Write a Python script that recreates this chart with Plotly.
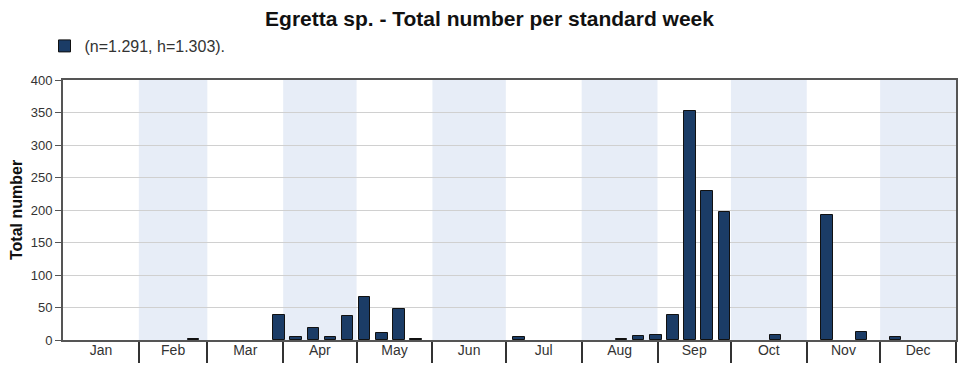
import plotly.graph_objects as go

# Data: standard week number -> total number
weeks = [8, 13, 14, 15, 16, 17, 18, 19, 20, 21, 27, 33, 34, 35, 36, 37, 38, 39, 42, 45, 47, 49]
values = [2, 39, 4, 18, 4, 37, 66, 11, 47, 2, 4, 2, 6, 8, 39, 353, 229, 197, 8, 193, 12, 4]

months = ["Jan", "Feb", "Mar", "Apr", "May", "Jun", "Jul", "Aug", "Sep", "Oct", "Nov", "Dec"]
month_days = [31, 28, 31, 30, 31, 30, 31, 31, 30, 31, 30, 31]
shaded = [False, True, False, True, False, True, False, True, False, True, False, True]

series_name = "(n=1.291, h=1.303)."
title = "Egretta sp. - Total number per standard week"
y_title = "Total number"

# derived positions (day-of-year axis)
starts = []
acc = 0
for d in month_days:
    starts.append(acc)
    acc += d
ends = [s + d for s, d in zip(starts, month_days)]
centers = [(s + e) / 2 for s, e in zip(starts, ends)]
xs = [7 * (w - 1) + 4.3 for w in weeks]

FONT = "Liberation Sans, Arial, sans-serif"

# page has 8px body margin -> figure is drawn 8px right/down
W, H = 963, 365
L, R, T, B = 55, 15, 72, 33

fig = go.Figure()
fig.add_trace(go.Bar(
    x=xs, y=values, width=4.7, name=series_name,
    marker=dict(color="#1b3c66", line=dict(color="#111111", width=1)),
    showlegend=True,
))
# invisible trace to activate xaxis2 (month labels)
fig.add_trace(go.Scatter(x=[centers[0]], y=[0], xaxis="x2", mode="markers",
                         marker=dict(opacity=0), showlegend=False, hoverinfo="skip"))

for s, e, sh in zip(starts, ends, shaded):
    if sh:
        fig.add_vrect(x0=s, x1=e, fillcolor="#e7edf7", line_width=0, layer="below")

fig.add_annotation(text="<b>" + y_title + "</b>", xref="paper", yref="paper",
                   x=(8 - L) / (W - L - R), y=0.5, textangle=-90, showarrow=False,
                   xanchor="center", yanchor="middle",
                   font=dict(size=16, color="#111111", family=FONT))

fig.update_layout(
    width=W, height=H,
    margin=dict(l=L, r=R, t=T, b=B, autoexpand=False),
    paper_bgcolor="white", plot_bgcolor="white",
    font=dict(family=FONT, size=13, color="#333333"),
    title=dict(text="<b>" + title + "</b>", x=0.5, xanchor="center", y=1 - 11 / H,
               yanchor="middle", yref="container", font=dict(size=21, color="#111111", family=FONT)),
    legend=dict(x=36.5 / W, xref="container", y=1 - 38 / H, yref="container",
                yanchor="middle", xanchor="left", font=dict(size=16, color="#333333"),
                bgcolor="rgba(0,0,0,0)", itemwidth=30),
    bargap=0,
    xaxis=dict(range=[0, 365], tickmode="array", tickvals=starts[1:] + [365],
               showticklabels=False, ticks="outside", ticklen=21, tickcolor="#333333",
               tickwidth=1.5, showgrid=False, zeroline=False, showline=True,
               linecolor="#555555", linewidth=2, mirror=True, fixedrange=True,
               automargin=False),
    xaxis2=dict(range=[0, 365], overlaying="x", side="bottom", tickmode="array",
                tickvals=centers, ticktext=months, ticks="", showgrid=False,
                zeroline=False, showline=False, automargin=False,
                tickfont=dict(size=14, color="#333333")),
    yaxis=dict(range=[0, 400], dtick=50, showgrid=True, gridcolor="#d0d0d0", gridwidth=1,
               zeroline=False, showline=True, linecolor="#555555", linewidth=2, mirror=True,
               ticks="outside", ticklen=6, tickcolor="#555555", automargin=False,
               tickfont=dict(size=13, color="#333333")),
)

fig.write_html("out.html")
